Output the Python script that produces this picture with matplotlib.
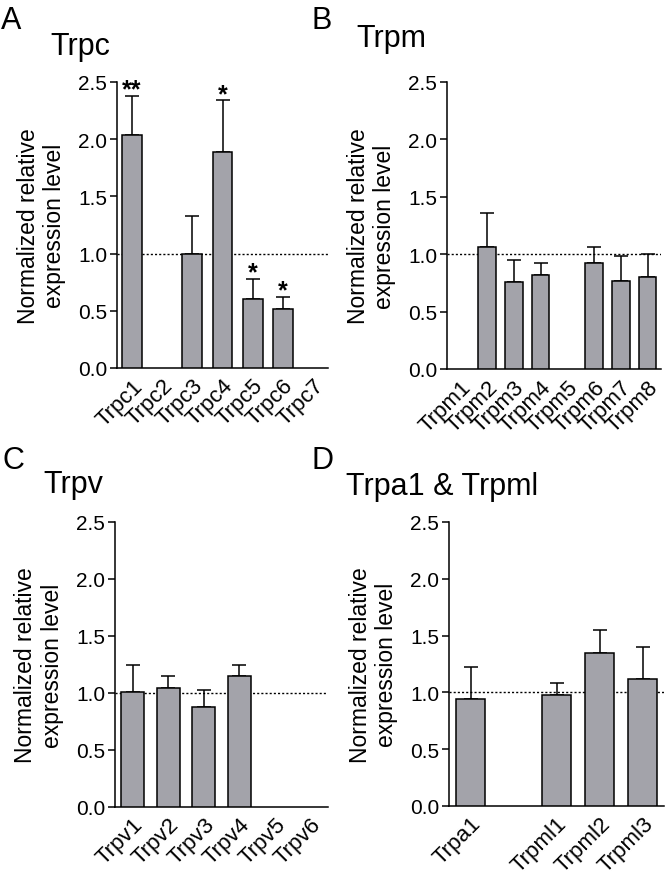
import numpy as np
import matplotlib
matplotlib.use("Agg")
import matplotlib.pyplot as plt

plt.rcParams['font.family'] = ['Liberation Sans', 'DejaVu Sans']

nan = np.nan

# panel A - Trpc
trpc_names = ['Trpc1', 'Trpc2', 'Trpc3', 'Trpc4', 'Trpc5', 'Trpc6', 'Trpc7']
trpc_mean = [2.04, nan, 1.00, 1.89, 0.60, 0.52, nan]
trpc_top = [2.38, nan, 1.33, 2.34, 0.78, 0.62, nan]
trpc_sig = ['**', '', '', '*', '*', '*', '']

# panel B - Trpm
trpm_names = ['Trpm1', 'Trpm2', 'Trpm3', 'Trpm4', 'Trpm5', 'Trpm6', 'Trpm7', 'Trpm8']
trpm_mean = [nan, 1.06, 0.76, 0.82, nan, 0.92, 0.77, 0.80]
trpm_top = [nan, 1.36, 0.95, 0.92, nan, 1.06, 0.98, 1.00]

# panel C - Trpv
trpv_names = ['Trpv1', 'Trpv2', 'Trpv3', 'Trpv4', 'Trpv5', 'Trpv6']
trpv_mean = [1.01, 1.04, 0.88, 1.15, nan, nan]
trpv_top = [1.25, 1.15, 1.03, 1.25, nan, nan]

# panel D - Trpa1 & Trpml
trpa_names = ['Trpa1', '', 'Trpml1', 'Trpml2', 'Trpml3']
trpa_mean = [0.94, nan, 0.98, 1.35, 1.12]
trpa_top = [1.22, nan, 1.08, 1.55, 1.40]

W, H = 672, 879
fig = plt.figure(figsize=(W / 100, H / 100), dpi=100)

bar_col = '#a3a3aa'
lw = 1.1


def px_axes(l, r, t, b):
    return fig.add_axes([l / W, 1 - b / H, (r - l) / W, (b - t) / H])


def panel(ax, names, mean, top, sig=None):
    n = len(names)
    x = np.arange(n)
    mean = np.array(mean, dtype=float)
    top = np.array(top, dtype=float)
    ok = ~np.isnan(mean)
    ax.axhline(1.0, color='black', ls=(0, (1.5, 1.5)), lw=1.0, zorder=0)
    ax.bar(x[ok], mean[ok], width=0.66, color=bar_col, edgecolor='black',
           linewidth=lw, zorder=3)
    up = top[ok] - mean[ok]
    ax.errorbar(x[ok], mean[ok], yerr=[np.zeros_like(up), up], fmt='none',
                ecolor='black', elinewidth=lw, capsize=5, capthick=lw, zorder=2)
    if sig is not None:
        for xi, t, s in zip(x, top, sig):
            if s:
                ax.text(xi, t - 0.05, s, ha='center', va='bottom',
                        fontsize=18, fontweight='bold')
    ax.set_xlim(-0.5, n - 0.5)
    ax.set_ylim(0, 2.5)
    ax.set_yticks([0, 0.5, 1.0, 1.5, 2.0, 2.5])
    ax.set_yticklabels(['0.0', '0.5', '1.0', '1.5', '2.0', '2.5'])
    ax.set_xticks(x)
    ax.set_xticklabels(names, rotation=45, ha='right', rotation_mode='anchor')
    ax.tick_params(axis='x', length=0, pad=5, labelsize=16)
    ax.tick_params(axis='y', length=5, width=lw, pad=2, labelsize=15)
    for s in ['top', 'right']:
        ax.spines[s].set_visible(False)
    for s in ['left', 'bottom']:
        ax.spines[s].set_linewidth(lw)
    ax.set_ylabel('Normalized relative\nexpression level', fontsize=16.5,
                  linespacing=1.2)
    ax.yaxis.set_label_coords(-0.24, 0.5)


axA = px_axes(117, 328, 83, 369)
panel(axA, trpc_names, trpc_mean, trpc_top, trpc_sig)
axB = px_axes(447, 661, 83, 370)
panel(axB, trpm_names, trpm_mean, trpm_top)
axC = px_axes(115, 328, 523, 808)
panel(axC, trpv_names, trpv_mean, trpv_top)
axD = px_axes(449, 664, 523, 807)
panel(axD, trpa_names, trpa_mean, trpa_top)
axB.yaxis.set_label_coords(-0.24 * 211 / 214, 0.5)
axD.yaxis.set_label_coords(-0.24 * 211 / 215, 0.5)


def ftext(xp, yp, s, size):
    fig.text(xp / W, 1 - yp / H, s, fontsize=size, ha='left', va='baseline')


ftext(1, 29, 'A', 22)
ftext(312, 29, 'B', 22)
ftext(3, 469, 'C', 22)
ftext(312, 469, 'D', 22)

ftext(50, 55, 'Trpc', 22)
ftext(356, 47, 'Trpm', 22)
ftext(43, 493, 'Trpv', 22)
ftext(346, 495, 'Trpa1 & Trpml', 22)

fig.savefig('out.png', dpi=100)
